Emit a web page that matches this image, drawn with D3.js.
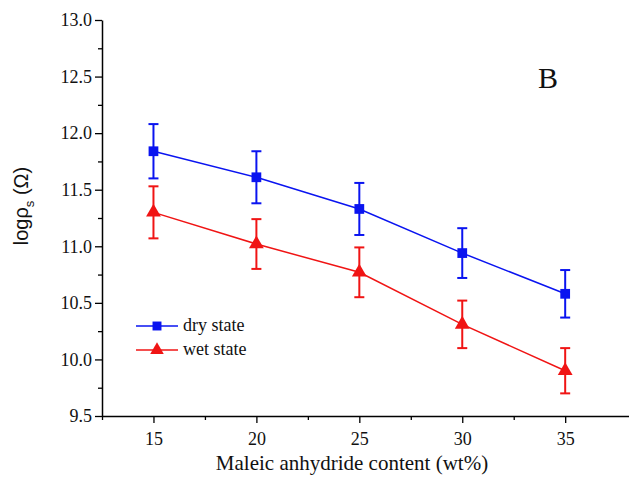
<!DOCTYPE html>
<html>
<head>
<meta charset="utf-8">
<script src="https://cdn.jsdelivr.net/npm/d3@7"></script>
<style>
  html, body { margin: 0; padding: 0; background: #fff; }
  svg { display: block; }
  .serif { font-family: "Liberation Serif", "Times New Roman", Times, serif; }
  .sans { font-family: "Liberation Sans", Arial, Helvetica, sans-serif; }
</style>
</head>
<body>
<svg id="chart" width="629" height="483"></svg>
<script>
const contents = [15, 20, 25, 30, 35];
const dryValues = [11.84, 11.61, 11.33, 10.94, 10.58];
const dryErrors = [0.24, 0.23, 0.23, 0.22, 0.21];
const wetValues = [11.30, 11.02, 10.77, 10.31, 9.90];
const wetErrors = [0.23, 0.22, 0.22, 0.21, 0.20];
const xMajorTicks = [15, 20, 25, 30, 35];
const xMinorTicks = [12.5, 17.5, 22.5, 27.5, 32.5];
const yMajorTicks = [9.5, 10.0, 10.5, 11.0, 11.5, 12.0, 12.5, 13.0];
const yMinorTicks = [9.75, 10.25, 10.75, 11.25, 11.75, 12.25, 12.75];
const seriesNames = ["dry state", "wet state"];

(function () {
const svg = d3.select("#chart");
const mLeft = 102, mTop = 20, mBottom = 416, mRight = 629;

const x = d3.scaleLinear().domain([12.5, 38.1]).range([mLeft, mRight]);
const y = d3.scaleLinear().domain([9.5, 13.0]).range([mBottom, mTop]);

// Axes
svg.append("g").attr("transform", `translate(${mLeft},0)`)
  .call(d3.axisLeft(y).tickValues(yMajorTicks).tickSize(7).tickSizeOuter(0).tickPadding(3).tickFormat(d3.format(".1f")));
svg.append("g").attr("transform", `translate(${mLeft},0)`)
  .call(d3.axisLeft(y).tickValues(yMinorTicks).tickSize(4).tickSizeOuter(0).tickFormat(""))
  .select(".domain").remove();

svg.append("g").attr("transform", `translate(0,${mBottom})`)
  .call(d3.axisBottom(x).tickValues(xMajorTicks).tickSize(7).tickSizeOuter(0).tickPadding(9).tickFormat(d3.format("d")));
svg.append("g").attr("transform", `translate(0,${mBottom})`)
  .call(d3.axisBottom(x).tickValues(xMinorTicks).tickSize(4).tickSizeOuter(0).tickFormat(""))
  .select(".domain").remove();

svg.selectAll("g").attr("font-family", null);
svg.selectAll(".domain").attr("stroke", "#000").attr("stroke-width", 1.5);
svg.selectAll(".tick line").attr("stroke", "#000").attr("stroke-width", 1.3);
svg.selectAll(".tick text").attr("class", "serif").attr("font-size", 18).attr("fill", "#111");

// Series
const series = [
  { name: seriesNames[0], values: dryValues, errors: dryErrors, color: "#0a14f0", symbol: d3.symbolSquare, size: 95 },
  { name: seriesNames[1], values: wetValues, errors: wetErrors, color: "#f01414", symbol: d3.symbolTriangle, size: 95 }
];

const line = d3.line().x(d => x(d[0])).y(d => y(d[1]));
const capHalf = 5;

series.forEach(s => {
  const pts = contents.map((c, i) => [c, s.values[i], s.errors[i]]);
  const g = svg.append("g");
  g.append("path").datum(pts).attr("d", line)
    .attr("fill", "none").attr("stroke", s.color).attr("stroke-width", 1.5);
  const eb = g.selectAll(".eb").data(pts).enter().append("g");
  eb.append("line")
    .attr("x1", d => x(d[0])).attr("x2", d => x(d[0]))
    .attr("y1", d => y(d[1] + d[2])).attr("y2", d => y(d[1] - d[2]))
    .attr("stroke", s.color).attr("stroke-width", 2);
  eb.append("line")
    .attr("x1", d => x(d[0]) - capHalf).attr("x2", d => x(d[0]) + capHalf)
    .attr("y1", d => y(d[1] + d[2])).attr("y2", d => y(d[1] + d[2]))
    .attr("stroke", s.color).attr("stroke-width", 2);
  eb.append("line")
    .attr("x1", d => x(d[0]) - capHalf).attr("x2", d => x(d[0]) + capHalf)
    .attr("y1", d => y(d[1] - d[2])).attr("y2", d => y(d[1] - d[2]))
    .attr("stroke", s.color).attr("stroke-width", 2);
  g.selectAll(".mk").data(pts).enter().append("path")
    .attr("d", d3.symbol().type(s.symbol).size(s.size))
    .attr("transform", d => `translate(${x(d[0])},${y(d[1])})`)
    .attr("fill", s.color);
});

// Legend
const legend = svg.append("g");
series.forEach((s, i) => {
  const ly = 326 + i * 24;
  legend.append("line").attr("x1", 136).attr("x2", 178).attr("y1", ly).attr("y2", ly)
    .attr("stroke", s.color).attr("stroke-width", 1.5);
  legend.append("path").attr("d", d3.symbol().type(s.symbol).size(80))
    .attr("transform", `translate(157,${ly})`).attr("fill", s.color);
  legend.append("text").attr("class", "serif").attr("x", 183).attr("y", ly + 5)
    .attr("font-size", 18).attr("fill", "#111").text(s.name);
});

// Panel letter
svg.append("text").attr("class", "serif").attr("x", 548).attr("y", 88).attr("text-anchor", "middle")
  .attr("font-size", 30).attr("fill", "#111").text("B");

// Axis titles
svg.append("text").attr("class", "serif").attr("x", 352).attr("y", 470).attr("text-anchor", "middle")
  .attr("font-size", 21).attr("fill", "#111")
  .text("Maleic anhydride content (wt%)");

const yl = svg.append("text").attr("class", "sans").attr("transform", "translate(28,206) rotate(-90)")
  .attr("text-anchor", "middle").attr("font-size", 20).attr("fill", "#111");
yl.append("tspan").text("logρ");
yl.append("tspan").attr("font-size", 13).attr("dy", 6).text("s");
yl.append("tspan").attr("dy", -6).text(" (Ω)");
})();
</script>
</body>
</html>
